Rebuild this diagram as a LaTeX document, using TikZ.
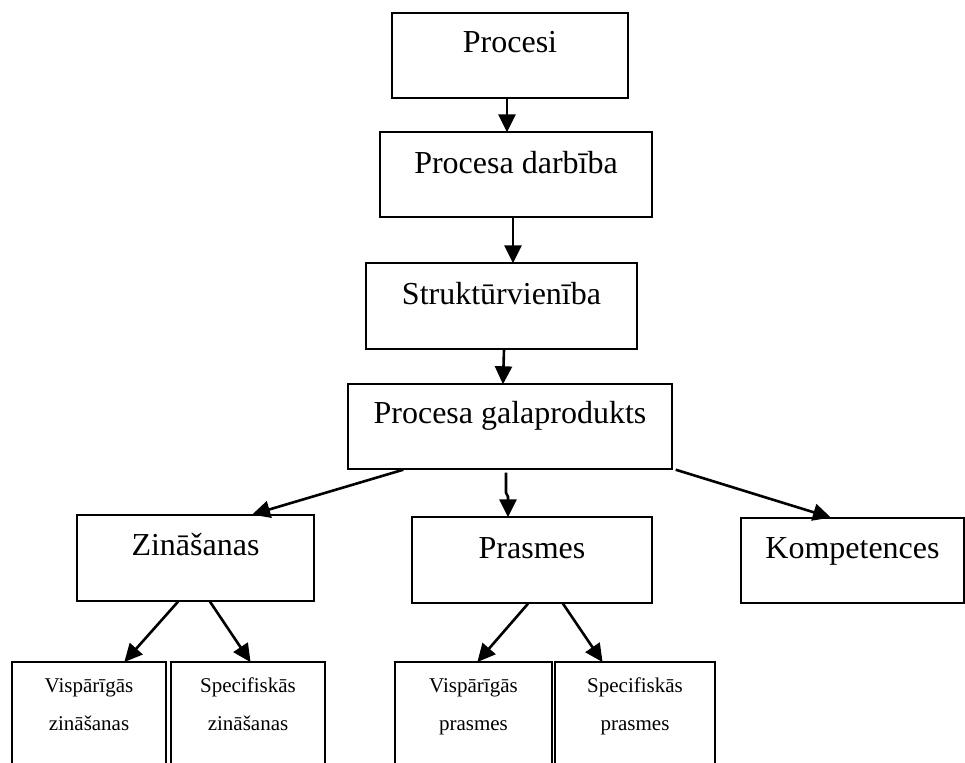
\documentclass[tikz,border=0pt]{standalone}
\usepackage{fontspec}
\setmainfont{Liberation Serif}
\usetikzlibrary{arrows.meta}

\tikzset{
  box/.style={draw, line width=1.4pt, inner sep=0pt, fill=white},
  bigtext/.style={font=\fontsize{32}{38}\selectfont},
  smalltext/.style={font=\fontsize{21}{38}\selectfont},
  link/.style={line width=2.6pt, -{Triangle[length=18pt,width=17pt]}, shorten >=-1pt},
}
% two-line caption, baseline of the first line is the node's baseline
\newcommand{\twolines}[2]{{\setlength{\tabcolsep}{0pt}\begin{tabular}[t]{c}#1\\#2\end{tabular}}}

\begin{document}
\begin{tikzpicture}[x=1pt,y=-1pt]
  \useasboundingbox (0,0) rectangle (965,762);
  \clip (0,0) rectangle (965,762);

  % main chain
  \node[box,bigtext,minimum width=236pt,text height=40pt,text depth=45pt] (proc) at (510,55.5) {Procesi};
  \node[box,bigtext,minimum width=272pt,text height=41pt,text depth=44pt] (darb) at (516,174.5) {Procesa darbība};
  \node[box,bigtext,minimum width=271pt,text height=41pt,text depth=45pt] (strukt) at (501.5,306) {Struktūrvienība};
  \node[box,bigtext,minimum width=324pt,text height=39pt,text depth=46pt] (galap) at (510,426.5) {Procesa galaprodukts};

  % second level
  \node[box,bigtext,minimum width=237pt,text height=40pt,text depth=46pt] (zin) at (195.5,558) {Zināšanas};
  \node[box,bigtext,minimum width=240pt,text height=41pt,text depth=45pt] (pras) at (532,560) {Prasmes};
  \node[box,bigtext,minimum width=223pt,text height=40pt,text depth=45pt] (komp) at (852.5,560.5) {Kompetences};

  % third level (boxes run past the lower edge)
  \node[box,smalltext,minimum width=154pt,text height=30pt,text depth=100pt] (vzin) at (89,727) {\twolines{Vispārīgās}{zināšanas}};
  \node[box,smalltext,minimum width=154pt,text height=30pt,text depth=100pt] (szin) at (248,727) {\twolines{Specifiskās}{zināšanas}};
  \node[box,smalltext,minimum width=157pt,text height=30pt,text depth=100pt] (vpras) at (473.5,727) {\twolines{Vispārīgās}{prasmes}};
  \node[box,smalltext,minimum width=160pt,text height=30pt,text depth=100pt] (spras) at (635,727) {\twolines{Specifiskās}{prasmes}};

  % connectors
  \draw[link] ([xshift=-3pt]proc.south) -- ([xshift=-9pt]darb.north);
  \draw[link] ([xshift=-3pt]darb.south) -- ([xshift=11.5pt]strukt.north);
  \draw[link] ([xshift=2.5pt]strukt.south) -- ([xshift=-7pt]galap.north);

  \draw[link] ([xshift=56pt]galap.south west) -- ([xshift=57.5pt]zin.north);
  \draw[link] ([xshift=-4pt,yshift=-3pt]galap.south) -- ++(0,20) -- ++(2,4) -- ([xshift=-24pt]pras.north);
  \draw[link] ([xshift=3pt]galap.south east) -- ([xshift=-22.5pt]komp.north);

  \draw[link] ([xshift=-17.5pt]zin.south) -- ([xshift=36pt]vzin.north);
  \draw[link] ([xshift=14.5pt]zin.south) -- ([xshift=2pt]szin.north);
  \draw[link] ([xshift=-4pt]pras.south) -- ([xshift=4.5pt]vpras.north);
  \draw[link] ([xshift=31pt]pras.south) -- ([xshift=-33pt]spras.north);
\end{tikzpicture}
\end{document}
